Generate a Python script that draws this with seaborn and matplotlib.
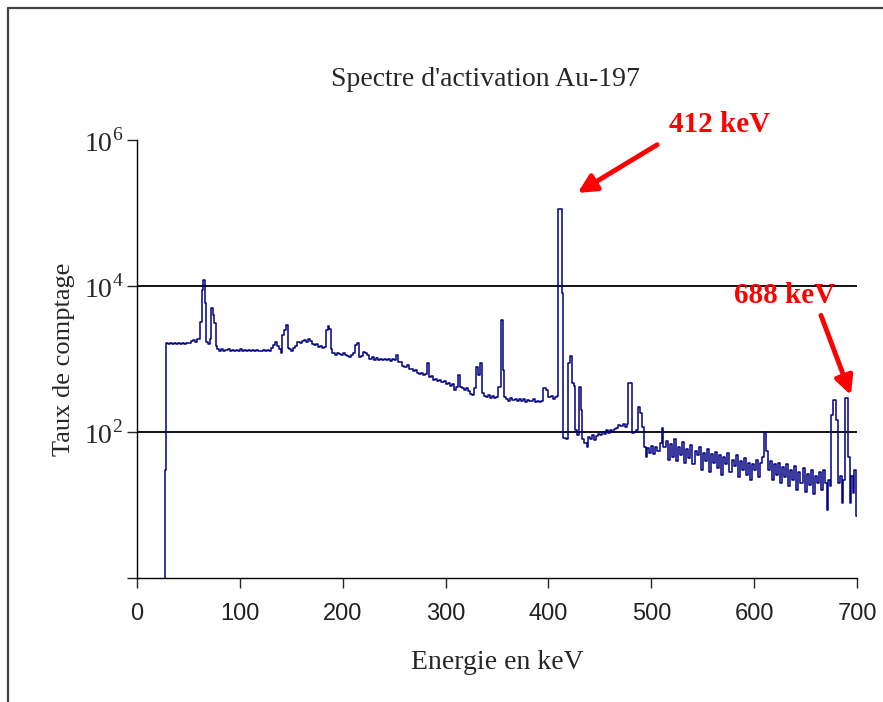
import pandas as pd
import matplotlib.pyplot as plt
import seaborn as sns
from matplotlib.lines import Line2D
from matplotlib.ticker import FixedLocator, FixedFormatter, NullLocator

# Spectre (début de canal en keV, taux de comptage)
energie = [
    0, 27, 28.5, 30, 32, 34, 36, 38, 40, 42, 44, 46, 48, 50, 52, 54, 56, 58, 60,
    61, 63, 64.5, 66, 67.5, 69, 70.5, 72, 73.5, 75, 76.5, 78, 80, 82, 84, 86, 88,
    90, 92, 94, 96, 98, 100, 102, 104, 106, 108, 110, 112, 114, 116, 118, 120,
    122, 124, 126, 128, 130, 132, 134, 136, 138, 140, 141, 143, 145, 146.5, 148,
    150, 152, 154, 156, 158, 160, 162, 164, 166, 168, 170, 172, 174, 176, 178,
    180, 182, 184, 185.5, 187, 188.5, 190, 192, 194, 196, 198, 200, 202, 204,
    206, 208, 210, 212, 214, 216, 218, 220, 222, 224, 226, 228, 230, 232, 234,
    236, 238, 240, 242, 244, 246, 248, 250, 252, 254, 256, 258, 260, 262, 264,
    266, 268, 270, 272, 274, 276, 278, 280, 282, 284, 286, 288, 290, 292, 294,
    296, 298, 300, 302, 304, 306, 308, 310, 312, 314, 316, 318, 320, 322, 324,
    326, 328, 330, 331.5, 333, 335, 337, 339, 341, 343, 345, 347, 349, 351,
    353.5, 355.5, 357, 359, 361, 363, 365, 367, 369, 371, 373, 375, 377, 379,
    381, 383, 385, 387, 389, 391, 393, 395, 398, 400, 402, 404, 406, 408, 409.5,
    413, 414.5, 417, 419, 420.5, 422.5, 424.5, 426, 428, 430, 431.5, 433, 435,
    437, 438.5, 440, 442, 444, 446, 448, 450, 452, 454, 456, 458, 460, 462, 464,
    466, 468, 470, 472, 474, 476, 477.5, 481, 483, 485, 487, 489, 491, 493,
    494.5, 496, 498, 500, 502, 504, 506, 508, 510, 511.5, 514, 516, 518, 520,
    522, 524, 526, 528, 530, 532, 534, 536, 538, 540, 542, 544, 546, 548, 550,
    552, 554, 556, 558, 560, 562, 564, 566, 568, 570, 572, 574, 576, 578, 580,
    582, 584, 586, 588, 590, 592, 594, 596, 598, 600, 602, 604, 606, 608, 610,
    611.5, 613, 615, 617, 619, 621, 623, 625, 627, 629, 631, 633, 635, 637, 639,
    641, 643, 645, 647, 649, 651, 653, 655, 657, 659, 661, 663, 665, 667, 669,
    670.5, 672, 674, 675, 677, 679.5, 681.5, 683, 685, 686.5, 688.5, 691.5, 693,
    694.5, 696, 697.5, 699, 700,
]
comptage = [
    0.5, 30, 1650, 1600, 1650, 1580, 1650, 1600, 1660, 1590, 1650, 1620, 1680,
    1650, 1750, 1800, 1720, 1850, 1900,
    3200, 8900, 12000, 5900, 1700, 1600, 1900, 5000, 4000, 3100, 1500, 1350,
    1300, 1380, 1300, 1320, 1380, 1300, 1320, 1280, 1320, 1300, 1350, 1290,
    1320, 1300, 1340, 1280, 1310, 1300, 1330, 1290, 1300, 1320, 1290, 1310,
    1300, 1400, 1550, 1700, 1500, 1350, 1200, 2100, 2500, 2900, 1400, 1350,
    1300, 1420, 1500, 1700, 1650, 1750, 1800, 1700, 1850, 1750, 1600, 1550,
    1600, 1450, 1500, 1400, 1450, 2500, 2800, 2600, 1350, 1200, 1150, 1200,
    1180, 1130, 1200, 1150, 1100, 1050, 1150, 1200, 1550, 1650, 1050, 1100,
    1250, 1200, 1150, 1000, 1050, 980, 1020, 970, 1000, 960, 1010, 980, 990,
    950, 1000, 960, 1150, 900, 920, 800, 780, 820, 720, 740, 680, 700, 650,
    620, 640, 600, 620, 870, 560, 580, 520, 540, 500, 520, 480, 500, 460, 470,
    430, 450, 380, 420, 600, 420, 400, 380, 400, 360, 330, 320, 400, 780, 600,
    870, 340, 310, 300, 320, 290, 310, 295, 300, 420, 3400, 700, 300, 280,
    270, 290, 275, 280, 265, 285, 270, 280, 260, 275, 270, 265, 280, 260, 270,
    255, 265, 400, 380, 300, 310, 280, 300, 310, 115000, 8000, 83, 80, 870,
    1100, 470, 430, 107, 90, 420, 200, 80, 70, 63, 85, 80, 90, 78, 88, 95, 90,
    100, 95, 105, 98, 108, 100, 110, 115, 125, 120, 130, 118, 130, 470, 96,
    100, 105, 220, 180, 118, 63, 45, 60, 52, 65, 50, 62, 55, 70, 112, 62,
    75, 42, 68, 45, 80, 40, 62, 48, 72, 38, 58, 44, 66, 36, 55, 48, 62, 30,
    52, 40, 58, 28, 50, 38, 54, 32, 48, 26, 45, 36, 52, 28, 42, 34, 48, 24,
    40, 30, 44, 26, 38, 22, 36, 30, 42, 24, 38, 45, 100,
    55,
    30, 40, 22, 36, 26, 38, 20, 33, 24, 36, 18, 30, 22, 34, 16, 28, 20, 32,
    15, 27, 19, 30, 14, 25, 20, 28, 16, 30, 20,
    8.5, 22, 18, 170, 275, 145, 20, 25, 10.7, 22, 295,
    46, 10.7, 25, 14.5, 30, 7, 7,
]

graduations_y = [1, 1e2, 1e4, 1e6]
etiquettes_y = ['', '10$^{2}$', '10$^{4}$', '10$^{6}$']
graduations_x = [0, 100, 200, 300, 400, 500, 600, 700]

spectre = pd.DataFrame({'Energie': energie, 'Comptage': comptage})

sns.set_style("white")
plt.rcParams['font.family'] = ['Liberation Serif', 'DejaVu Serif']
plt.rcParams['mathtext.fontset'] = 'custom'
plt.rcParams['mathtext.rm'] = 'Liberation Serif'

fig = plt.figure(figsize=(8.83, 7.02), dpi=100)
ax = fig.add_axes([0.1552, 0.1766, 0.8154, 0.624])

sns.lineplot(data=spectre, x='Energie', y='Comptage', ax=ax, estimator=None,
             sort=False, drawstyle='steps-post', color='#000080', linewidth=1.1)

ax.set_yscale('log')
ax.set_xlim(0, 700)
ax.set_ylim(1, 1e6)
ax.yaxis.set_major_locator(FixedLocator(graduations_y))
ax.yaxis.set_major_formatter(FixedFormatter(etiquettes_y))
ax.yaxis.set_minor_locator(NullLocator())
ax.set_xticks(graduations_x)
ax.set_xticklabels([str(v) for v in graduations_x],
                   family=['Liberation Sans Narrow', 'Liberation Sans'],
                   fontsize=17, color='#222222')
ax.tick_params(axis='y', labelsize=20, direction='out', length=7, width=1,
               left=True, pad=3)
ax.tick_params(axis='x', direction='out', length=7, width=1, bottom=True, pad=11)

for v in [1e2, 1e4]:
    ax.axhline(v, color='black', linewidth=1.3, zorder=1)

sns.despine(ax=ax)
for s in ['left', 'bottom']:
    ax.spines[s].set_color('black')
    ax.spines[s].set_linewidth(1)

fig.text(485 / 883, 1 - 80 / 702, "Spectre d'activation Au-197", fontsize=20,
         ha='center', va='center')
ax.set_xlabel('Energie en keV', fontsize=20, labelpad=18)
ax.set_ylabel('Taux de comptage', fontsize=19, labelpad=6)

# Flèches et étiquettes des pics
ax.annotate('', xy=(426, 1.8e5), xytext=(508, 9e5), annotation_clip=False,
            arrowprops=dict(arrowstyle='-|>,head_length=1.1,head_width=0.55',
                            color='red', lw=3.5))
ax.text(566, 1.65e6, '412 keV', color='red', fontsize=21, fontweight='bold',
        ha='center', va='center', clip_on=False)
ax.annotate('', xy=(695, 295), xytext=(664, 4300), annotation_clip=False,
            arrowprops=dict(arrowstyle='-|>,head_length=1.1,head_width=0.55',
                            color='red', lw=3.5))
ax.text(630, 7500, '688 keV', color='red', fontsize=21, fontweight='bold',
        ha='center', va='center', clip_on=False)

# Cadre du graphique (bords gauche et haut visibles)
fig.add_artist(Line2D([8 / 883, 8 / 883], [0, 1 - 8 / 702], color='#444444', lw=1.6))
fig.add_artist(Line2D([8 / 883, 1], [1 - 8 / 702, 1 - 8 / 702], color='#444444', lw=1.6))

fig.savefig('out.png', dpi=100)
